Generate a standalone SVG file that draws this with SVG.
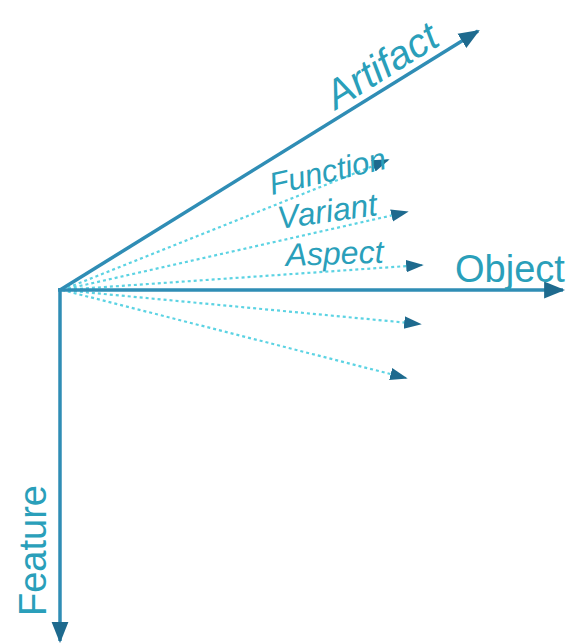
<svg xmlns="http://www.w3.org/2000/svg" width="566" height="644" viewBox="0 0 566 644">
<style>
.axis{stroke:#2f8db5;stroke-width:3.5;fill:none}
.dot{stroke:#5cd3e3;stroke-width:2.2;stroke-dasharray:3 3;fill:none}
.lbl{font-family:"Liberation Sans",Arial,sans-serif;fill:#2a9fba}
</style>
<defs>
<marker id="big" viewBox="0 0 10 10" refX="9" refY="5" markerWidth="6" markerHeight="6" markerUnits="strokeWidth" orient="auto"><path d="M0,1 L10,5 L0,9 Z" fill="#1e6a8e"/></marker>
<marker id="small" viewBox="0 0 10 10" refX="9" refY="5" markerWidth="8" markerHeight="8" markerUnits="strokeWidth" orient="auto"><path d="M0,1.5 L10,5 L0,8.5 Z" fill="#1e6a8e"/></marker>
</defs>
<rect width="566" height="644" fill="#ffffff"/>
<g id="connectors">
<line class="dot" x1="62" y1="290" x2="388" y2="160" marker-end="url(#small)"/>
<line class="dot" x1="62" y1="290" x2="407" y2="212" marker-end="url(#small)"/>
<line class="dot" x1="62" y1="290" x2="422" y2="265" marker-end="url(#small)"/>
<line class="dot" x1="62" y1="290" x2="420" y2="324" marker-end="url(#small)"/>
<line class="dot" x1="62" y1="290" x2="406" y2="378" marker-end="url(#small)"/>
<line class="axis" x1="60" y1="290" x2="478" y2="31" marker-end="url(#big)"/>
<line class="axis" x1="58" y1="290" x2="563" y2="290" marker-end="url(#big)"/>
<line class="axis" x1="60" y1="288" x2="60" y2="641" marker-end="url(#big)"/>
</g>
<g id="artifact"><text class="lbl" font-size="40" font-style="italic" transform="translate(336,110) rotate(-32)">Artifact</text></g>
<g id="function"><text class="lbl" font-size="31" font-style="italic" transform="translate(272,195) rotate(-13)">Function</text></g>
<g id="variant"><text class="lbl" font-size="32" font-style="italic" transform="translate(279,229) rotate(-8)">Variant</text></g>
<g id="aspect"><text class="lbl" font-size="32" font-style="italic" transform="translate(286,266) rotate(-2)">Aspect</text></g>
<g id="object"><text class="lbl" font-size="38" x="455" y="282">Object</text></g>
<g id="feature"><text class="lbl" font-size="38" transform="translate(46,616) rotate(-90)">Feature</text></g>
</svg>
